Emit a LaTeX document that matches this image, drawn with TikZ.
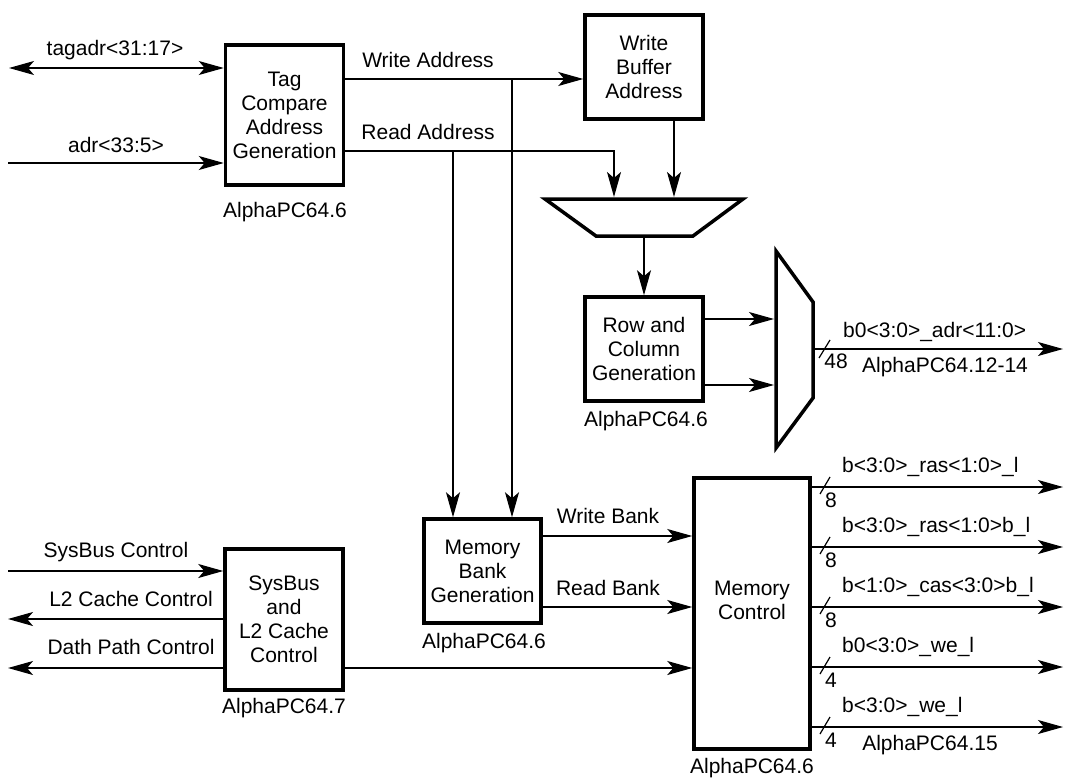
\documentclass[tikz,border=0pt]{standalone}
\usepackage{fontspec}
\setmainfont{Liberation Sans}
\usetikzlibrary{arrows.meta,calc}
\begin{document}
\begin{tikzpicture}[x=1pt,y=-1pt,
  lbl/.style={font=\fontsize{21}{24}\selectfont, inner sep=0pt},
  blk/.style={draw, line width=3.5pt, align=center, inner sep=0pt, font=\fontsize{21}{24}\selectfont},
  wire/.style={line width=1.2pt},
  arr/.style={wire, -{Stealth[length=25pt,width=14pt,inset=6pt]}},
  biarr/.style={wire, {Stealth[length=25pt,width=14pt,inset=6pt]}-{Stealth[length=25pt,width=14pt,inset=6pt]}},
  muxshape/.style={draw, line width=3.5pt, line join=miter}]
\useasboundingbox (0,0) rectangle (1065,781);

% functional blocks
\node[blk, minimum width=118pt, minimum height=140pt] (tag) at (284.5,115) {Tag\\Compare\\Address\\Generation};
\node[lbl] (tagref) at (285,212) {AlphaPC64.6};
\node[blk, minimum width=118pt, minimum height=104pt] (wb) at (644,67) {Write\\Buffer\\Address};
\node[blk, minimum width=118pt, minimum height=104pt] (row) at (644,349) {Row and\\Column\\Generation};
\node[lbl] (rowref) at (646,421) {AlphaPC64.6};
\node[blk, minimum width=117pt, minimum height=104pt] (mbank) at (482.5,571) {Memory\\Bank\\Generation};
\node[lbl] (mbankref) at (484,643) {AlphaPC64.6};
\node[blk, minimum width=118pt, minimum height=141pt] (sys) at (284,619.5) {SysBus\\and\\L2 Cache\\Control};
\node[lbl] (sysref) at (284,708) {AlphaPC64.7};
\node[blk, minimum width=116pt, minimum height=271pt] (mctl) at (752,613.5) {};
\node[lbl, align=center] (mctltext) at (752,600) {Memory\\Control};
\node[lbl] (mctlref) at (752,768) {AlphaPC64.6};

% multiplexers
\draw[muxshape] (545,199) -- (743,199) -- (693,236) -- (596,236) -- cycle;
\draw[muxshape] (776,251) -- (813,302) -- (813,398) -- (776,448) -- cycle;
\coordinate (m1inA) at (614,197);
\coordinate (m1inB) at (674,197);
\coordinate (m1out) at (644,237.5);
\coordinate (m2inA) at (774,319);
\coordinate (m2inB) at (774,385);
\coordinate (m2out) at (814.5,349);

% tag compare inputs
\coordinate (tagL) at (9,68);
\coordinate (adrL) at (8,163);
\draw[biarr] (tagL) -- (tag.west |- tagL);
\draw[arr] (adrL) -- (tag.west |- adrL);
\node[lbl] (tagadrlbl) at (115,50) {tagadr<31:17>};
\node[lbl] (adrlbl) at (116,145) {adr<33:5>};

% write / read address paths
\coordinate (wa) at (512,79);
\coordinate (ra) at (453,151);
\draw[arr] (tag.east |- wa) -- (wb.west |- wa);
\draw[arr] (wa) -- (wa |- mbank.north);
\draw[arr] (tag.east |- ra) -| (m1inA);
\draw[arr] (ra) -- (ra |- mbank.north);
\node[lbl] (walbl) at (428,60) {Write Address};
\node[lbl] (ralbl) at (428,132) {Read Address};
\draw[arr] (wb.south -| m1inB) -- (m1inB);
\draw[arr] (m1out) -- (row.north);
\draw[arr] (row.east |- m2inA) -- (m2inA);
\draw[arr] (row.east |- m2inB) -- (m2inB);

% DRAM address output
\coordinate (adrR) at (1063,349);
\draw[arr] (m2out) -- (adrR);
\draw[wire] (819,358) -- (830,340);
\node[lbl] (n48) at (836,361) {48};
\node[lbl, anchor=west] (adrout) at (843,332) {b0<3:0>\_adr<11:0>};
\node[lbl] (adroutref) at (945,367) {AlphaPC64.12-14};

% bank select into memory control
\coordinate (wbk) at (0,536);
\coordinate (rbk) at (0,607);
\draw[arr] (mbank.east |- wbk) -- (mctl.west |- wbk);
\draw[arr] (mbank.east |- rbk) -- (mctl.west |- rbk);
\node[lbl] (wbklbl) at (608,516) {Write Bank};
\node[lbl] (rbklbl) at (608,588) {Read Bank};

% system bus and cache control
\coordinate (sysin) at (8,571);
\coordinate (l2o) at (8,619);
\coordinate (dpo) at (8,668);
\draw[arr] (sysin) -- (sys.west |- sysin);
\draw[arr] (sys.west |- l2o) -- (l2o);
\draw[arr] (sys.west |- dpo) -- (dpo);
\draw[arr] (sys.east |- dpo) -- (mctl.west |- dpo);
\node[lbl] (syslbl) at (116,552) {SysBus Control};
\node[lbl] (l2lbl) at (131,599) {L2 Cache Control};
\node[lbl] (dplbl) at (131,647) {Dath Path Control};

% memory control outputs
\foreach \yy/\lab/\nb [count=\i] in {487/b<3:0>\_ras<1:0>\_l/8, 547/b<3:0>\_ras<1:0>b\_l/8, 607/b<1:0>\_cas<3:0>b\_l/8, 667/b0<3:0>\_we\_l/4, 727/b<3:0>\_we\_l/4}{
  \coordinate (o\i) at (1063,\yy);
  \draw[arr] (mctl.east |- o\i) -- (o\i);
  \draw[wire] (820,\yy+7) -- (830,\yy-10);
  \node[lbl, anchor=west] (olbl\i) at (842,\yy-20) {\lab};
  \node[lbl] (onb\i) at (831,\yy+13) {\nb};
}
\node[lbl] (mctloutref) at (930,745) {AlphaPC64.15};
\end{tikzpicture}
\end{document}
